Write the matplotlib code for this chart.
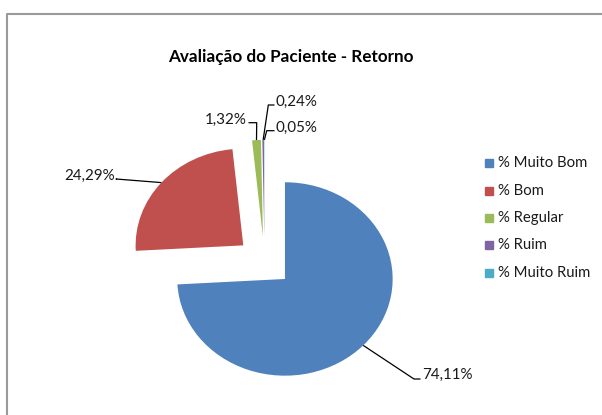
import numpy as np
import matplotlib
matplotlib.use('Agg')
import matplotlib.pyplot as plt
from matplotlib.patches import Rectangle
from matplotlib.lines import Line2D

# Data
categories = ['% Muito Bom', '% Bom', '% Regular', '% Ruim', '% Muito Ruim']
values = [74.11, 24.29, 1.32, 0.24, 0.05]
value_labels = ['74,11%', '24,29%', '1,32%', '0,24%', '0,05%']
colors = ['#4F81BD', '#C0504D', '#9BBB59', '#8064A2', '#4BACC6']

W, H = 602, 415
FONT = 'Lato'

# pixel layout of the pie (chart was stretched horizontally)
cx, cy = 264.6, 261.7
rx, ry = 107.7, 96.7
explode = 0.26


def to_data(x, y):
    return (x - cx) / rx, (cy - y) / ry


fig = plt.figure(figsize=(W / 100, H / 100), dpi=100)
ax = fig.add_axes([0, 0, 1, 1])
ax.set_axis_off()

wedges, _ = ax.pie(values, colors=colors, startangle=90, counterclock=False,
                   explode=[explode] * len(values), radius=1,
                   wedgeprops=dict(linewidth=0))
ax.set_aspect('auto')
x0, y0 = to_data(0, H)
x1, y1 = to_data(W, 0)
ax.set_xlim(x0, x1)
ax.set_ylim(y0, y1)

# label layout: (elbow px, text px, ha)
label_layout = [
    ((414, 379), (422, 374.5), 'left'),
    ((116, 179), (115, 176), 'right'),
    ((256.7, 122.7), (247, 120), 'right'),
    ((268.3, 105), (276, 102), 'left'),
    ((266.7, 130.7), (276, 127.5), 'left'),
]

for w, lab, (elbow, tpos, ha) in zip(wedges, value_labels, label_layout):
    mid = np.deg2rad((w.theta1 + w.theta2) / 2)
    ccx, ccy = w.center
    ax_pt = (ccx + np.cos(mid), ccy + np.sin(mid))
    ex, ey = to_data(*elbow)
    tx, ty = to_data(*tpos)
    end_x = tx - 1.5 / rx if ha == 'left' else tx + 1.5 / rx
    ax.plot([ax_pt[0], ex, end_x], [ax_pt[1], ey, ey], color='black', lw=0.9,
            solid_capstyle='butt')
    ax.text(tx, ty, lab, ha=ha, va='center', fontsize=10.9, family=FONT,
            color='#1a1a1a')

# title
fig.text(291 / W, 1 - 57 / H, 'Avaliação do Paciente - Retorno', ha='center',
         va='center', fontsize=12.3, fontweight='bold', family=FONT, color='black')

# legend
leg_y = [163.3, 190.7, 218.3, 245.3, 272.7]
for cat, col, yy in zip(categories, colors, leg_y):
    fig.patches.append(Rectangle((485 / W, 1 - (yy + 4) / H), 8 / W, 8 / H,
                                 transform=fig.transFigure, color=col))
    fig.text(498 / W, 1 - yy / H, cat, ha='left', va='center', fontsize=10.7,
             family=FONT, color='#1a1a1a')

# chart frame (only left and top edges visible)
fig.lines.append(Line2D([6.7 / W, 6.7 / W, 1], [0, 1 - 13.7 / H, 1 - 13.7 / H],
                        transform=fig.transFigure, color='#9a9a9a', lw=1.5))

plt.savefig('out.png', dpi=100)
